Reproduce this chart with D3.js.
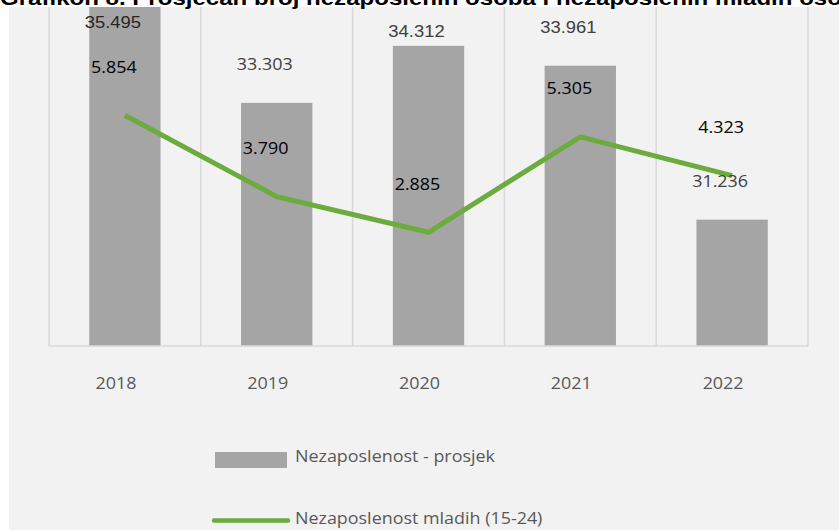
<!DOCTYPE html>
<html>
<head>
<meta charset="utf-8">
<script src="https://cdn.jsdelivr.net/npm/d3@7"></script>
<style>
  html, body { margin: 0; padding: 0; background: #ffffff; }
  svg { display: block; }
</style>
</head>
<body>
<svg id="chart" width="839" height="530"></svg>
<script>
// ---- data ----
const years = ["2018", "2019", "2020", "2021", "2022"];
const unemploymentAvg = [35.495, 33.303, 34.312, 33.961, 31.236];
const youthUnemployment = [5.854, 3.790, 2.885, 5.305, 4.323];
const barLabels = ["35.495", "33.303", "34.312", "33.961", "31.236"];
const lineLabels = ["5.854", "3.790", "2.885", "5.305", "4.323"];
const seriesNames = ["Nezaposlenost - prosjek", "Nezaposlenost mladih (15-24)"];
const titleText = "Grafikon 8. Prosječan broj nezaposlenih osoba i nezaposlenih mladih osoba";

// ---- layout / style ----
const W = 839, H = 530;
const plot = { left: 49, right: 808, top: 7, bottom: 346 };
const barColor = "#a5a5a5";
const lineColor = "#6cab3d";
const gridColor = "#d9d9d9";
const bgColor = "#f2f2f2";
const fontStack = "'Open Sans', 'DejaVu Sans', sans-serif";
const arialStack = "'Liberation Sans', Arial, sans-serif";
const barLabelY = [22, null, 31, null, null]; // manual label positions (null = auto above bar)
const sx = 1.12; // horizontal text stretch

const svg = d3.select("#chart");

svg.append("rect").attr("x", 9).attr("y", 7).attr("width", W - 9).attr("height", H - 7).attr("fill", bgColor);

// title (cut off at top, as in the reference)
svg.append("text")
  .attr("x", 0).attr("y", 5)
  .attr("font-family", arialStack)
  .attr("font-weight", "bold")
  .attr("font-size", 20)
  .attr("textLength", 870)
  .attr("lengthAdjust", "spacingAndGlyphs")
  .attr("fill", "#000")
  .text(titleText);

const x = d3.scaleBand().domain(years).range([plot.left, plot.right]).padding(0);
const y = d3.scaleLinear().domain([29, 35]).range([plot.bottom, plot.top]).clamp(true);
const y2 = d3.scaleLinear().domain([0, 8.6]).range([plot.bottom, plot.top]);

// vertical gridlines at category boundaries
const bounds = years.map(d => x(d)).concat([x(years[years.length - 1]) + x.bandwidth()]);
svg.append("g").selectAll("line").data(bounds).join("line")
  .attr("x1", d => d).attr("x2", d => d)
  .attr("y1", plot.top).attr("y2", plot.bottom)
  .attr("stroke", gridColor).attr("stroke-width", 1.5);

// bars
const bw = x.bandwidth() * 0.47;
const cx = d => x(d) + x.bandwidth() / 2;
svg.append("g").selectAll("rect").data(years).join("rect")
  .attr("x", d => cx(d) - bw / 2)
  .attr("y", (d, i) => y(unemploymentAvg[i]))
  .attr("width", bw)
  .attr("height", (d, i) => plot.bottom - y(unemploymentAvg[i]))
  .attr("fill", barColor);

// baseline
svg.append("line")
  .attr("x1", plot.left).attr("x2", plot.right)
  .attr("y1", plot.bottom).attr("y2", plot.bottom)
  .attr("stroke", gridColor).attr("stroke-width", 1.5);

// line
const line = d3.line().x((d, i) => cx(years[i])).y(d => y2(d));
svg.append("path").datum(youthUnemployment)
  .attr("d", line)
  .attr("fill", "none")
  .attr("stroke", lineColor)
  .attr("stroke-width", 5)
  .attr("stroke-linejoin", "miter")
  .attr("stroke-linecap", "butt");

function addText(g, tx, ty, str, opts) {
  return g.append("text")
    .attr("transform", `translate(${tx},${ty}) scale(${opts.sx || sx},1)`)
    .attr("text-anchor", opts.anchor || "middle")
    .attr("font-family", opts.family || fontStack)
    .attr("font-size", opts.size || 16)
    .attr("font-weight", opts.weight || "normal")
    .attr("fill", opts.fill || "#595959")
    .text(str);
}

const labelsG = svg.append("g");
// bar labels
years.forEach((d, i) => {
  const cy = barLabelY[i] !== null ? barLabelY[i] : y(unemploymentAvg[i]) - 38;
  const isArial = (i === 0 || i === 2 || i === 3);
  addText(labelsG, cx(d) - 12, cy + 5.6, barLabels[i], {
    family: isArial ? arialStack : fontStack,
    fill: i === 0 ? "#262626" : "#404040",
    size: isArial ? 16 : 16,
    sx: isArial ? 1.15 : sx
  });
});
// line labels
years.forEach((d, i) => {
  const cy = y2(youthUnemployment[i]) - 48;
  addText(labelsG, cx(d) - 11, cy + 5.6, lineLabels[i], { fill: "#000", weight: 500 });
});

// x-axis labels
years.forEach(d => {
  addText(labelsG, cx(d) - 9, 383 + 5.6, d, { fill: "#595959" });
});

// legend
const lg = svg.append("g");
lg.append("rect").attr("x", 215).attr("y", 452).attr("width", 72).attr("height", 16).attr("fill", barColor);
addText(lg, 295, 456 + 5.6, seriesNames[0], { anchor: "start", fill: "#595959" });
lg.append("line").attr("x1", 214).attr("x2", 288).attr("y1", 520.5).attr("y2", 520.5)
  .attr("stroke", lineColor).attr("stroke-width", 4.5).attr("stroke-linecap", "round");
addText(lg, 295, 518 + 5.6, seriesNames[1], { anchor: "start", fill: "#595959" });
</script>
</body>
</html>
